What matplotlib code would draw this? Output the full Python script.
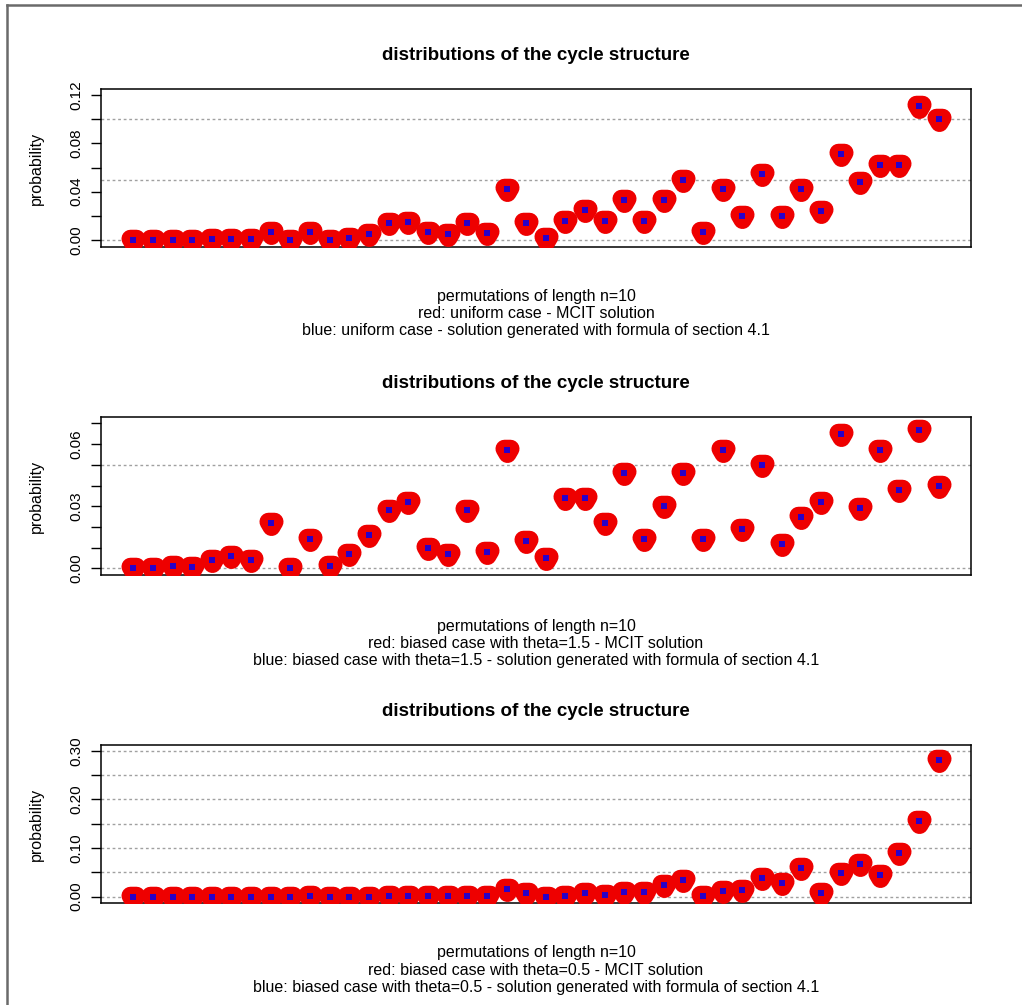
import matplotlib.pyplot as plt
import numpy as np
from matplotlib.lines import Line2D
from matplotlib.markers import MarkerStyle
from matplotlib.path import Path

plt.rcParams["font.family"] = ["Liberation Sans", "DejaVu Sans"]

TITLE = "distributions of the cycle structure"

# probability of each cycle type (the 42 partitions of 10);
# MCIT solution (red) and the section 4.1 formula (blue) give the same values
uniform_probs = [0.000, 0.000, 0.000, 0.000, 0.001, 0.001, 0.001, 0.007, 0.000, 0.007,
                 0.000, 0.002, 0.005, 0.014, 0.015, 0.007, 0.005, 0.014, 0.006, 0.042,
                 0.014, 0.002, 0.016, 0.025, 0.016, 0.033, 0.016, 0.033, 0.050, 0.007,
                 0.042, 0.020, 0.055, 0.020, 0.042, 0.024, 0.071, 0.048, 0.062, 0.062,
                 0.111, 0.100]
theta15_probs = [0.000, 0.000, 0.001, 0.0005, 0.004, 0.006, 0.004, 0.022, 0.000, 0.014,
                 0.001, 0.007, 0.016, 0.028, 0.032, 0.010, 0.007, 0.028, 0.008, 0.057,
                 0.013, 0.005, 0.034, 0.034, 0.022, 0.046, 0.014, 0.030, 0.046, 0.014,
                 0.057, 0.019, 0.050, 0.012, 0.025, 0.032, 0.065, 0.029, 0.057, 0.038,
                 0.067, 0.040]
theta05_probs = [0.000, 0.000, 0.000, 0.000, 0.000, 0.000, 0.000, 0.000, 0.000, 0.002,
                 0.000, 0.000, 0.000, 0.002, 0.002, 0.002, 0.002, 0.002, 0.002, 0.015,
                 0.008, 0.000, 0.002, 0.008, 0.004, 0.010, 0.010, 0.023, 0.034, 0.002,
                 0.012, 0.014, 0.038, 0.028, 0.059, 0.008, 0.049, 0.068, 0.045, 0.089,
                 0.155, 0.281]

captions = [
    ["permutations of length n=10",
     "red: uniform case - MCIT solution",
     "blue: uniform case - solution generated with formula of section 4.1"],
    ["permutations of length n=10",
     "red: biased case with theta=1.5 - MCIT solution",
     "blue: biased case with theta=1.5 - solution generated with formula of section 4.1"],
    ["permutations of length n=10",
     "red: biased case with theta=0.5 - MCIT solution",
     "blue: biased case with theta=0.5 - solution generated with formula of section 4.1"],
]

# y axis setup per panel: limits, ticks, label every k-th tick, grid lines
yaxes = [
    dict(lim=(-0.0058, 0.125), ticks=np.arange(0, 0.121, 0.02), every=2,
         grid=[0.0, 0.05, 0.10]),
    dict(lim=(-0.0032, 0.0731), ticks=np.arange(0, 0.0701, 0.01), every=3,
         grid=[0.0, 0.05]),
    dict(lim=(-0.013, 0.312), ticks=np.arange(0, 0.301, 0.05), every=2,
         grid=list(np.arange(0, 0.301, 0.05))),
]

W, H = 1022, 1005
fig = plt.figure(figsize=(W / 100, H / 100), dpi=100)

# outer frame on the left and top
fig.add_artist(Line2D([7 / W, 7 / W], [0, 1 - 5 / H], color="#6a6a6a", lw=1.8))
fig.add_artist(Line2D([7 / W, 1], [1 - 5 / H, 1 - 5 / H], color="#6a6a6a", lw=1.8))

tops = [89, 417, 745]
title_y = [55, 383, 711]
cap_y = [296, 626, 953]
left, right = 101, 971
panel_h = 158

# small down-pointing triangle (centroid at origin), drawn with a fat round stroke
ang = np.radians([270, 30, 150, 270])
tri = Path(np.column_stack([np.cos(ang), np.sin(ang)]), closed=True)
red_marker = MarkerStyle(tri, joinstyle="round")

for k, probs in enumerate([uniform_probs, theta15_probs, theta05_probs]):
    ax = fig.add_axes([left / W, 1 - (tops[k] + panel_h) / H,
                       (right - left) / W, panel_h / H])
    spec = yaxes[k]
    x = np.arange(1, len(probs) + 1)

    for g in spec["grid"]:
        ax.axhline(g, color="#a0a0a0", lw=1.0, ls=(0, (2, 2)), zorder=1)

    ax.plot(x, probs, ls="none", marker=red_marker, ms=5, mew=13,
            color="#ee0000", mec="#ee0000", zorder=3)
    ax.plot(x, probs, ls="none", marker="s", ms=4.5, color="#2a00c8", mew=0,
            zorder=4)

    ax.set_xlim(-0.64, 43.64)
    ax.set_ylim(*spec["lim"])
    ax.set_xticks([])
    ticks = spec["ticks"]
    ax.set_yticks(ticks)
    ax.set_yticklabels(["%.2f" % t if i % spec["every"] == 0 else ""
                        for i, t in enumerate(ticks)],
                       rotation=90, va="center", fontsize=11)
    ax.tick_params(axis="y", length=7, width=1, pad=5.5)
    for s in ax.spines.values():
        s.set_linewidth(1.1)

    ax.set_ylabel("probability", fontsize=11.5)
    ax.yaxis.set_label_coords(-0.0655, 0.5)

    xc = (left + right) / 2 / W
    fig.text(xc, 1 - title_y[k] / H, TITLE, ha="center", va="center",
             fontsize=13.5, fontweight="bold")
    for j, line in enumerate(captions[k]):
        fig.text(xc, 1 - (cap_y[k] + 17 * j) / H, line, ha="center",
                 va="center", fontsize=11.5)

fig.savefig("out.png", dpi=100)
